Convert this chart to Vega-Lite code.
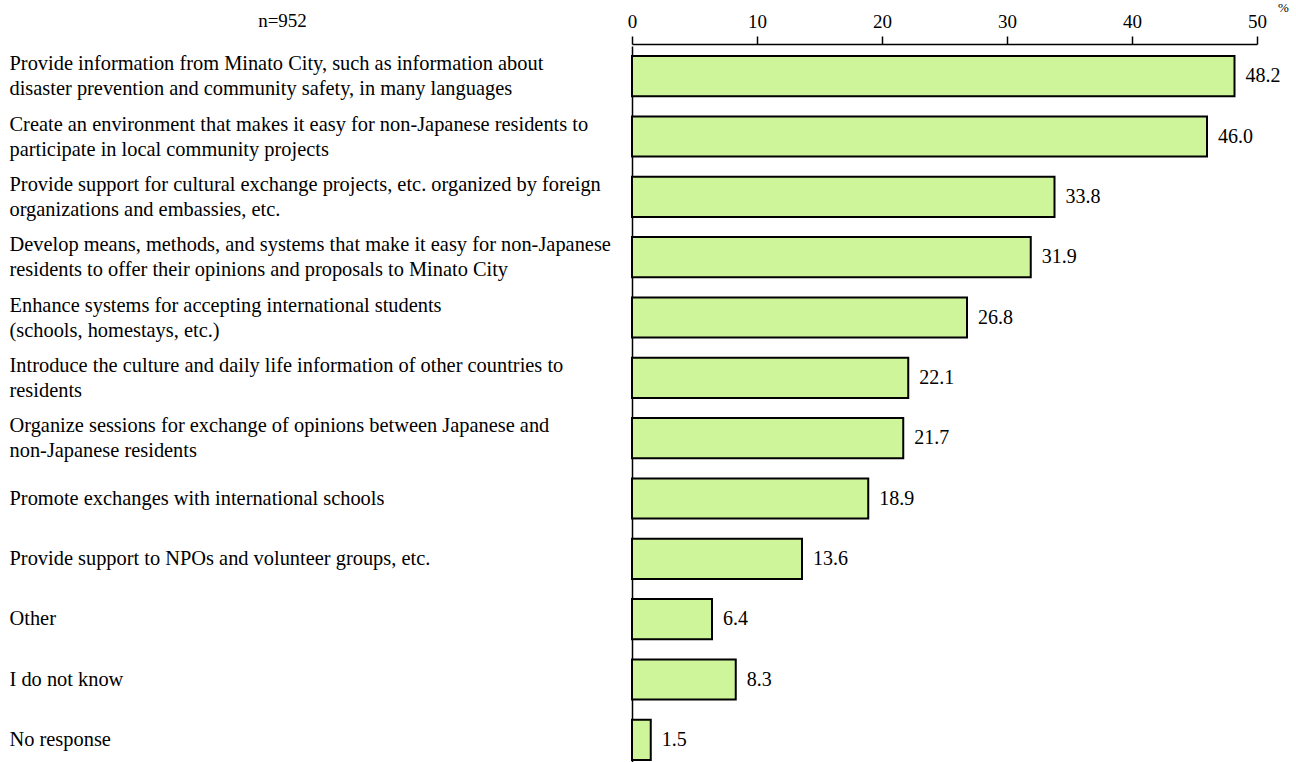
{
  "$schema": "https://vega.github.io/schema/vega-lite/v6.json",
  "autosize": "none",
  "width": 625,
  "height": 716,
  "padding": {"left": 632, "top": 46, "right": 39, "bottom": 0},
  "background": "white",
  "config": {
    "view": {"stroke": null},
    "font": "Liberation Serif"
  },
  "data": {
    "values": [
      {"label": "Provide information from Minato City, such as information about|disaster prevention and community safety, in many languages", "value": 48.2},
      {"label": "Create an environment that makes it easy for non-Japanese residents to| participate in local community projects", "value": 46.0},
      {"label": "Provide support for cultural exchange projects, etc. organized by foreign|organizations and embassies, etc.", "value": 33.8},
      {"label": "Develop means, methods, and systems that make it easy for non-Japanese| residents to offer their opinions and proposals to Minato City", "value": 31.9},
      {"label": "Enhance systems for accepting international students|(schools, homestays, etc.)", "value": 26.8},
      {"label": "Introduce the culture and daily life information of other countries to|residents", "value": 22.1},
      {"label": "Organize sessions for exchange of opinions between Japanese and| non-Japanese residents", "value": 21.7},
      {"label": "Promote exchanges with international schools", "value": 18.9},
      {"label": "Provide support to NPOs and volunteer groups, etc.", "value": 13.6},
      {"label": "Other", "value": 6.4},
      {"label": "I do not know", "value": 8.3},
      {"label": "No response", "value": 1.5}
    ]
  },
  "encoding": {
    "y": {
      "field": "label",
      "type": "nominal",
      "sort": null,
      "scale": {"range": [0, 724], "paddingInner": 0.335, "paddingOuter": 0.1675},
      "axis": {
        "title": "n=952",
        "titleAngle": 0,
        "titleX": -350,
        "titleY": -26,
        "titleAlign": "center",
        "titleBaseline": "middle",
        "titleFont": "Liberation Serif",
        "titleFontSize": 19,
        "titleFontWeight": "normal",
        "titleColor": "black",
        "domain": true,
        "domainColor": "black",
        "domainWidth": 1.5,
        "ticks": false,
        "labelAlign": "left",
        "labelPadding": 623,
        "labelFont": "Liberation Serif",
        "labelFontSize": 20.4,
        "labelColor": "black",
        "labelLimit": 0,
        "labelLineHeight": 25,
        "labelBaseline": "middle",
        "labelOffset": {"condition": {"test": "indexof(datum.value, '|') >= 0", "value": -12}, "value": 0},
        "labelExpr": "split(datum.label, '|')"
      }
    }
  },
  "layer": [
    {
      "mark": {"type": "bar", "fill": "#cef59a", "stroke": "black", "strokeWidth": 2},
      "encoding": {
        "x": {
          "field": "value",
          "type": "quantitative",
          "scale": {"domain": [0, 50], "nice": false},
          "axis": {
            "orient": "top",
            "values": [0, 10, 20, 30, 40, 50],
            "grid": false,
            "offset": 2,
            "title": "%",
            "titleX": 651,
            "titleY": -37,
            "titleAlign": "center",
            "titleBaseline": "middle",
            "titleFont": "Liberation Serif",
            "titleFontSize": 13,
            "titleFontWeight": "normal",
            "titleColor": "black",
            "domainColor": "black",
            "domainWidth": 1.5,
            "tickColor": "black",
            "tickWidth": 1.5,
            "tickSize": 8,
            "labelPadding": 5,
            "labelFont": "Liberation Serif",
            "labelFontSize": 19,
            "labelColor": "black",
            "labelFlush": false
          }
        }
      }
    },
    {
      "mark": {"type": "text", "align": "left", "baseline": "middle", "dx": 11, "font": "Liberation Serif", "fontSize": 20, "color": "black"},
      "encoding": {
        "x": {"field": "value", "type": "quantitative"},
        "text": {"field": "value", "type": "quantitative", "format": ".1f"}
      }
    }
  ]
}
